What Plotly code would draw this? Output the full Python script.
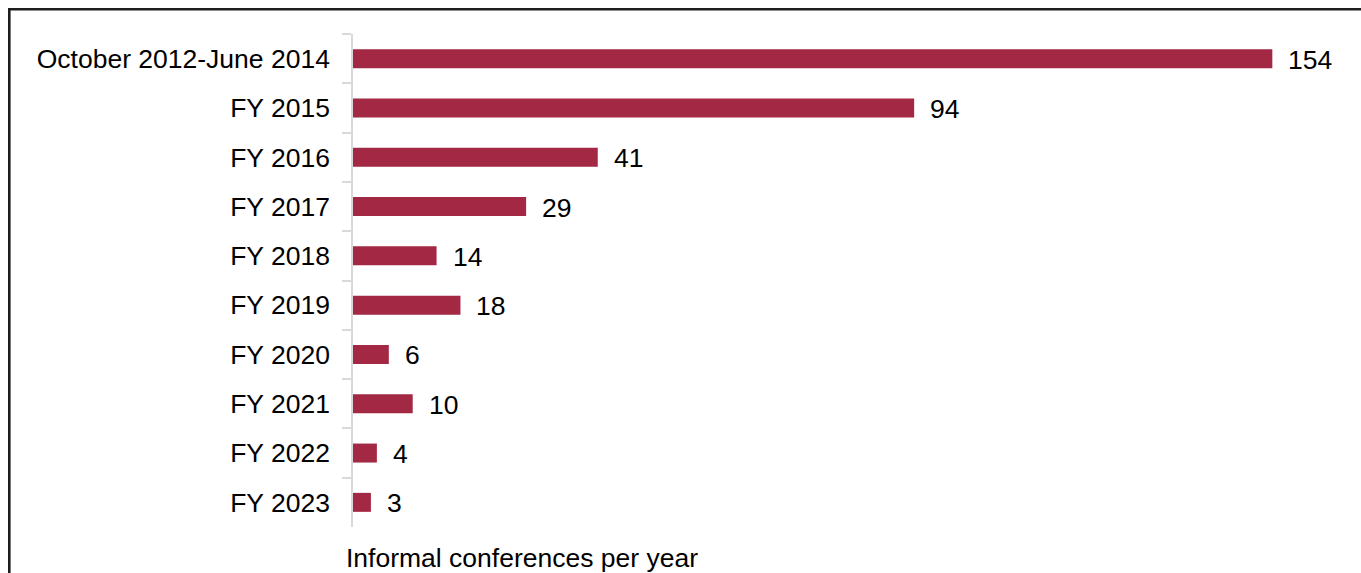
import plotly.graph_objects as go

# Informal conferences held per period
periods = [
    "October 2012-June 2014",
    "FY 2015",
    "FY 2016",
    "FY 2017",
    "FY 2018",
    "FY 2019",
    "FY 2020",
    "FY 2021",
    "FY 2022",
    "FY 2023",
]
conferences = [154, 94, 41, 29, 14, 18, 6, 10, 4, 3]
axis_title = "Informal conferences per year"

W, H = 1361, 573
M_L, M_R, M_T, M_B = 353, 23, 34, 46
PLOT_W = W - M_L - M_R
PLOT_H = H - M_T - M_B

BAR_COLOR = "#A22843"
FONT = "Arial, Liberation Sans, sans-serif"
FS = 26.5


def px_x(px):
    """Pixel column -> paper x."""
    return (px - M_L) / PLOT_W


def px_y(py):
    """Pixel row -> paper y."""
    return (H - M_B - py) / PLOT_H


fig = go.Figure(
    go.Bar(
        x=conferences,
        y=periods,
        orientation="h",
        marker=dict(color=BAR_COLOR, line=dict(width=0)),
        hoverinfo="skip",
    )
)

# value labels to the right of each bar
for p, v in zip(periods, conferences):
    fig.add_annotation(
        x=v, y=p, xref="x", yref="y",
        text=str(v), showarrow=False,
        xanchor="left", yanchor="middle",
        xshift=14, yshift=-1,
        font=dict(family=FONT, size=FS, color="#000000"),
    )

# axis title under the category axis
fig.add_annotation(
    x=0, y=0, xref="paper", yref="paper",
    text=axis_title, showarrow=False,
    xanchor="left", yanchor="middle",
    xshift=-9, yshift=-31,
    font=dict(family=FONT, size=FS, color="#000000"),
)

# dark frame along the top and left edges
frame = dict(color="#1e1e1e", width=2.6)
fig.add_shape(type="line", xref="paper", yref="paper",
              x0=px_x(8), x1=px_x(W + 5), y0=px_y(9.3), y1=px_y(9.3), line=frame)
fig.add_shape(type="line", xref="paper", yref="paper",
              x0=px_x(9.3), x1=px_x(9.3), y0=px_y(8), y1=px_y(H + 5), line=frame)

fig.update_layout(
    width=W, height=H,
    margin=dict(l=M_L, r=M_R, t=M_T, b=M_B, pad=0),
    paper_bgcolor="white", plot_bgcolor="white",
    bargap=0.615,
    showlegend=False,
    font=dict(family=FONT, size=FS, color="#000000"),
    xaxis=dict(
        range=[0, 165], visible=False, fixedrange=True,
    ),
    yaxis=dict(
        autorange="reversed",
        showline=True, linecolor="#D9D9D9", linewidth=1.6,
        ticks="outside", ticklen=9, tickcolor="#D9D9D9", tickwidth=1.6,
        tickson="boundaries",
        ticklabelstandoff=16,
        showgrid=False, zeroline=False,
        tickfont=dict(family=FONT, size=FS, color="#000000"),
    ),
)

fig.write_html("out.html")
